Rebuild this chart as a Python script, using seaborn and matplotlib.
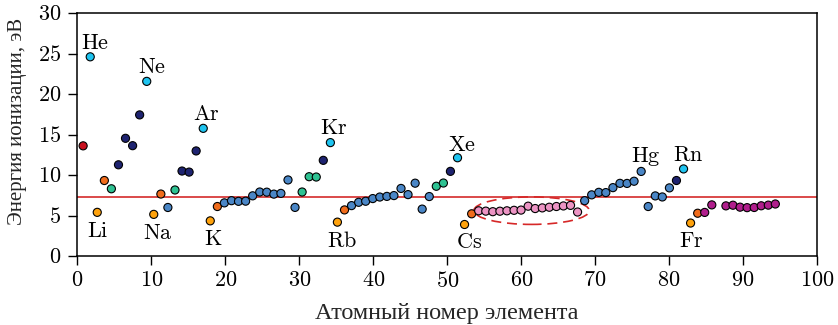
import matplotlib
matplotlib.use("Agg")
import matplotlib.pyplot as plt
from matplotlib.patches import Ellipse
import seaborn as sns
import pandas as pd

# ---- data -------------------------------------------------------------
# element symbols (Pa is absent in the chart)
symbols = ["H", "He", "Li", "Be", "B", "C", "N", "O", "F", "Ne",
           "Na", "Mg", "Al", "Si", "P", "S", "Cl", "Ar", "K", "Ca",
           "Sc", "Ti", "V", "Cr", "Mn", "Fe", "Co", "Ni", "Cu", "Zn",
           "Ga", "Ge", "As", "Se", "Br", "Kr", "Rb", "Sr", "Y", "Zr",
           "Nb", "Mo", "Tc", "Ru", "Rh", "Pd", "Ag", "Cd", "In", "Sn",
           "Sb", "Te", "I", "Xe", "Cs", "Ba", "La", "Ce", "Pr", "Nd",
           "Pm", "Sm", "Eu", "Gd", "Tb", "Dy", "Ho", "Er", "Tm", "Yb",
           "Lu", "Hf", "Ta", "W", "Re", "Os", "Ir", "Pt", "Au", "Hg",
           "Tl", "Pb", "Bi", "Po", "At", "Rn", "Fr", "Ra", "Ac", "Th",
           "U", "Np", "Pu", "Am", "Cm", "Bk", "Cf", "Es"]

# horizontal positions of the markers
x_pos = [0.77, 1.73, 2.68, 3.64, 4.59, 5.55, 6.50, 7.46, 8.41, 9.37,
         10.32, 11.28, 12.23, 13.19, 14.14, 15.10, 16.05, 17.01, 17.96, 18.92,
         19.87, 20.83, 21.78, 22.74, 23.69, 24.65, 25.60, 26.56, 27.51, 28.47,
         29.42, 30.38, 31.33, 32.29, 33.24, 34.20, 35.15, 36.11, 37.06, 38.02,
         38.97, 39.93, 40.88, 41.84, 42.79, 43.75, 44.70, 45.66, 46.61, 47.57,
         48.52, 49.48, 50.43, 51.39, 52.34, 53.30, 54.25, 55.21, 56.16, 57.12,
         58.07, 59.03, 59.98, 60.94, 61.89, 62.85, 63.80, 64.76, 65.71, 66.67,
         67.62, 68.58, 69.53, 70.49, 71.44, 72.40, 73.35, 74.31, 75.26, 76.22,
         77.17, 78.13, 79.08, 80.04, 80.99, 81.95, 82.90, 83.86, 84.81, 85.77,
         87.68, 88.63, 89.59, 90.54, 91.50, 92.45, 93.41, 94.36]

# first ionisation energy, eV
energy = [13.60, 24.59, 5.39, 9.32, 8.30, 11.26, 14.53, 13.62, 17.42, 21.56,
          5.14, 7.65, 5.99, 8.15, 10.49, 10.36, 12.97, 15.76, 4.34, 6.11,
          6.56, 6.83, 6.75, 6.77, 7.43, 7.90, 7.88, 7.64, 7.73, 9.39,
          6.00, 7.90, 9.79, 9.75, 11.81, 14.00, 4.18, 5.69, 6.22, 6.63,
          6.76, 7.09, 7.28, 7.36, 7.46, 8.34, 7.58, 8.99, 5.79, 7.34,
          8.61, 9.01, 10.45, 12.13, 3.89, 5.21, 5.58, 5.54, 5.47, 5.53,
          5.58, 5.64, 5.67, 6.15, 5.86, 5.94, 6.02, 6.11, 6.18, 6.25,
          5.43, 6.83, 7.55, 7.86, 7.83, 8.44, 8.97, 8.96, 9.23, 10.44,
          6.11, 7.42, 7.29, 8.41, 9.32, 10.75, 4.07, 5.28, 5.38, 6.31,
          6.19, 6.27, 6.03, 5.97, 5.99, 6.20, 6.28, 6.42]

# element groups: h, alk, ae, met, mtl (metalloid), nm, ng, lan, act
group = (["h", "ng", "alk", "ae", "mtl", "nm", "nm", "nm", "nm", "ng",
          "alk", "ae", "met", "mtl", "nm", "nm", "nm", "ng", "alk", "ae"]
         + ["met"] * 11
         + ["mtl", "mtl", "mtl", "nm", "ng", "alk", "ae"]
         + ["met"] * 12
         + ["mtl", "mtl", "nm", "ng", "alk", "ae"]
         + ["lan"] * 15
         + ["met"] * 13
         + ["nm", "ng", "alk", "ae"]
         + ["act"] * 10)

palette = {"h": "#c8101e", "alk": "#ffa20c", "ae": "#f06c1c",
           "met": "#4a86c6", "mtl": "#2ec292", "nm": "#1e2370",
           "ng": "#1ec4f0", "lan": "#ec94c4", "act": "#b01e8c"}

# labelled elements and label anchor (x, baseline y)
label_names = ["He", "Ne", "Ar", "Kr", "Xe", "Hg", "Rn",
               "Li", "Na", "K", "Rb", "Cs", "Fr"]
label_x = [2.4, 10.1, 17.45, 34.7, 52.0, 76.9, 82.6,
           2.7, 10.9, 18.3, 35.7, 52.9, 83.0]
label_y = [25.55, 22.6, 16.8, 15.05, 13.0, 11.65, 11.75,
           2.3, 2.05, 1.35, 1.15, 0.95, 1.07]

threshold = 7.32
x_ticks = [0, 10, 20, 30, 40, 50, 60, 70, 80, 90, 100]
y_ticks = [0, 5, 10, 15, 20, 25, 30]

df = pd.DataFrame({"x": x_pos, "E": energy, "group": group, "sym": symbols})

# ---- figure -----------------------------------------------------------
sns.set_theme(style="ticks")
plt.rcParams["font.family"] = ["Liberation Serif", "DejaVu Serif"]
plt.rcParams["axes.unicode_minus"] = False
plt.rcParams["mathtext.fontset"] = "cm"

fig = plt.figure(figsize=(8.38, 3.25), dpi=100)
ax = fig.add_axes([0.0924, 0.2123, 0.8826, 0.7477])

ax.axhline(threshold, color="#d83a3a", lw=1.3, zorder=1)

sns.scatterplot(data=df, x="x", y="E", hue="group", palette=palette,
                s=34, edgecolor="black", linewidth=0.8, legend=False,
                ax=ax, zorder=3)

ell = Ellipse((61.4, 5.6), 15.6, 3.4, fill=False, edgecolor="#d62828",
              lw=1.2, linestyle=(0, (6, 3.5)), zorder=2)
ax.add_patch(ell)

for n, lx, ly in zip(label_names, label_x, label_y):
    ax.text(lx, ly, r"$\mathrm{" + n + "}$", ha="center", va="baseline",
            fontsize=16, color="black", zorder=4)

ax.set_xlim(0, 100)
ax.set_ylim(0, 30)
ax.set_xticks(x_ticks)
ax.set_xticklabels([f"${t}$" for t in x_ticks])
ax.set_yticks(y_ticks)
ax.set_yticklabels([f"${t}$" for t in y_ticks])
ax.set_xlabel("Атомный номер элемента", fontsize=17.5, labelpad=8)
ax.set_ylabel("Энергия ионизации, эВ", fontsize=15)
ax.yaxis.set_label_coords(-0.068, 0.555)
ax.tick_params(direction="out", length=6.5, width=1.0, labelsize=16,
               colors="black", pad=5)
for sp in ax.spines.values():
    sp.set_linewidth(1.1)
    sp.set_color("black")

fig.savefig("out.png", dpi=100)
